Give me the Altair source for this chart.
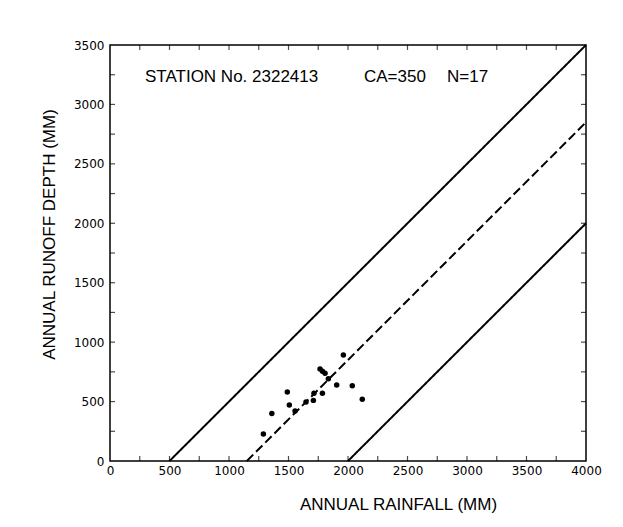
import altair as alt
import pandas as pd

# Scatter data (annual rainfall vs annual runoff depth, mm)
rain = [1289, 1360, 1490, 1507, 1555, 1647, 1709, 1714, 1785, 1765, 1785, 1807, 1835, 1905, 1961, 2036, 2120]
runoff = [228, 400, 580, 471, 421, 496, 510, 570, 570, 775, 755, 738, 692, 640, 892, 634, 520]

# Envelope / mean lines
line_kind = ["solid", "dashed", "solid"]
line_x0 = [500, 1150, 2000]
line_y0 = [0, 0, 0]
line_x1 = [4000, 4000, 4000]
line_y1 = [3500, 2850, 2000]

# Annotation texts
ann_text = ["STATION No. 2322413", "CA=350", "N=17"]
ann_x = [294, 2134, 2832]
ann_y = [3230, 3230, 3230]

x_ticks = list(range(0, 4001, 500))
y_ticks = list(range(0, 3501, 500))
minor_x = list(range(250, 4000, 250))
minor_y = list(range(250, 3500, 250))

points = pd.DataFrame({"rain": rain, "runoff": runoff})
lines = pd.DataFrame({"kind": line_kind, "x0": line_x0, "y0": line_y0, "x1": line_x1, "y1": line_y1})
ann = pd.DataFrame({"t": ann_text, "x": ann_x, "y": ann_y})
tick_rows = (
    [{"tx": v, "ty": 0, "side": "bottom"} for v in minor_x]
    + [{"tx": v, "ty": 3500, "side": "top"} for v in minor_x]
    + [{"tx": 0, "ty": v, "side": "left"} for v in minor_y]
    + [{"tx": 4000, "ty": v, "side": "right"} for v in minor_y]
)
ticks = pd.DataFrame(tick_rows)

xscale = alt.Scale(domain=[0, 4000], nice=False, zero=False)
yscale = alt.Scale(domain=[0, 3500], nice=False, zero=False)

xaxis = alt.Axis(
    values=x_ticks, format="d", ticks=False, grid=False, domain=False, labelFlush=False,
    labelFont="DejaVu Sans", labelFontSize=12, labelColor="black", labelPadding=4,
    title="ANNUAL  RAINFALL  (MM)", titleFont="Liberation Sans", titleFontSize=17,
    titleFontWeight="normal", titleColor="black", titleX=288, titleY=48,
    titleBaseline="alphabetic",
)
yaxis = alt.Axis(
    values=y_ticks, format="d", ticks=False, grid=False, domain=False, labelFlush=False,
    labelFont="DejaVu Sans", labelFontSize=12, labelColor="black", labelPadding=6,
    title="ANNUAL  RUNOFF  DEPTH  (MM)", titleFont="Liberation Sans", titleFontSize=17,
    titleFontWeight="normal", titleColor="black", titleX=-52, titleY=189,
)

def X(f):
    return alt.X(f, type="quantitative", scale=xscale, axis=xaxis)

def Y(f):
    return alt.Y(f, type="quantitative", scale=yscale, axis=yaxis)

pts = alt.Chart(points).mark_circle(size=30, color="black", opacity=1).encode(
    x=X("rain"), y=Y("runoff")
)

rules = alt.Chart(lines).mark_rule(color="black", strokeWidth=2).encode(
    x=X("x0"), y=Y("y0"), x2="x1", y2="y1",
    strokeDash=alt.StrokeDash("kind:N", scale=alt.Scale(domain=["solid", "dashed"], range=[[1, 0], [9, 4]]), legend=None),
)

def tick_layer(side, orient, **off):
    return alt.Chart(ticks).transform_filter(alt.datum.side == side).mark_tick(
        orient=orient, size=5, thickness=1.2, color="black", **off
    ).encode(x=X("tx"), y=Y("ty"))

tb = tick_layer("bottom", "vertical", yOffset=-2.5)
tt = tick_layer("top", "vertical", yOffset=2.5)
tl = tick_layer("left", "horizontal", xOffset=2.5)
tr = tick_layer("right", "horizontal", xOffset=-2.5)

texts = alt.Chart(ann).mark_text(
    align="left", baseline="middle", font="Liberation Sans", fontSize=17, color="black"
).encode(x=X("x"), y=Y("y"), text="t:N")

chart = alt.layer(rules, tb, tt, tl, tr, pts, texts).properties(
    width=476, height=416,
    autosize=alt.AutoSizeParams(type="none"),
    padding={"left": 102, "top": 37, "right": 25, "bottom": 52},
    background="white",
).configure_view(stroke="black", strokeWidth=1.5)

chart.save("out.html", embed_options={"renderer": "svg", "actions": False})
